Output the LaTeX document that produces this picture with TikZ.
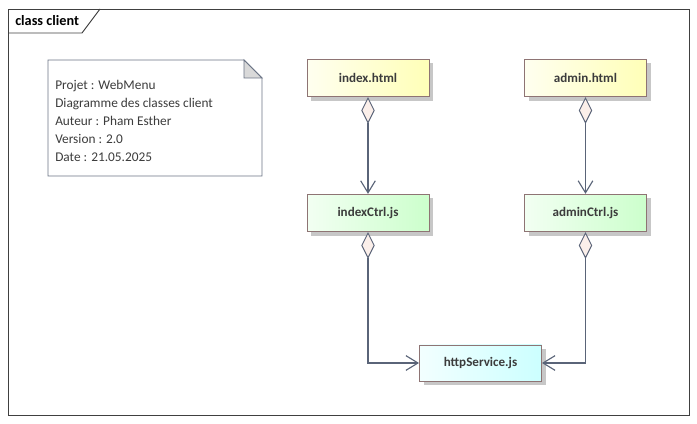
\documentclass[tikz,border=0pt]{standalone}
\usepackage{fontspec}
\setmainfont{Carlito}
\usetikzlibrary{arrows.meta,shadows}
\definecolor{lnc}{HTML}{5A6478}
\definecolor{bordc}{HTML}{8E7474}
\definecolor{txtc}{HTML}{3C3C3C}
\definecolor{dfill}{HTML}{FBEFEA}
\begin{document}
\begin{tikzpicture}[x=0.75pt,y=-0.75pt,
  cls/.style={draw=bordc,line width=0.7pt,minimum width=91.5pt,minimum height=28pt,
    font=\bfseries\fontsize{9.8}{11}\selectfont,text=txtc,
    drop shadow={shadow xshift=3pt,shadow yshift=-3pt,fill=black!22,opacity=1}},
  yel/.style={cls,left color=yellow!6,right color=yellow!28},
  grn/.style={cls,left color=green!5,right color=green!20},
  cyn/.style={cls,left color=cyan!5,right color=cyan!20},
  agg/.style={draw=lnc,line width=0.85pt,
    {Diamond[length=20pt,width=10pt,fill=dfill,line width=0.7pt]}-{Straight Barb[length=9pt,width=11pt,line width=0.85pt]}}
]
\useasboundingbox (0,0) rectangle (697,424);
% frame
\draw[black!75,line width=0.7pt] (8,9) rectangle (689,415);
\draw[black!75,line width=0.7pt] (8,33) -- (82,33) -- (100,9);
\node[anchor=west,font=\bfseries\fontsize{10.7}{12}\selectfont,text=black,inner sep=0pt] (title) at (15,21) {class client};
% note
\draw[draw=lnc!90,line width=0.7pt,fill=white] (48,60) -- (244,60) -- (262,78) -- (262,176) -- (48,176) -- cycle;
\draw[draw=lnc!90,line width=0.7pt,fill=black!15] (244,60) -- (244,78) -- (262,78) -- cycle;
\node[anchor=north west,align=left,font=\fontsize{10}{13.5}\selectfont,text=txtc,inner sep=0pt] (note) at (55,80)
 {Projet : WebMenu\\Diagramme des classes client\\Auteur : Pham Esther\\Version : 2.0\\Date : 21.05.2025};
% classes
\node[yel] (ih) at (368,78) {index.html};
\node[yel] (ah) at (585.5,78) {admin.html};
\node[grn] (ic) at (368,213) {indexCtrl.js};
\node[grn] (ac) at (585.5,213) {adminCtrl.js};
\node[cyn,minimum height=27pt] (hs) at (480.5,363) {httpService.js};
% connectors
\draw[agg] (ih.south) -- (ic.north);
\draw[agg] (ah.south) -- (ac.north);
\draw[agg] (ic.south) |- (hs.west);
\draw[agg] (ac.south) |- (hs.east);
\end{tikzpicture}
\end{document}
